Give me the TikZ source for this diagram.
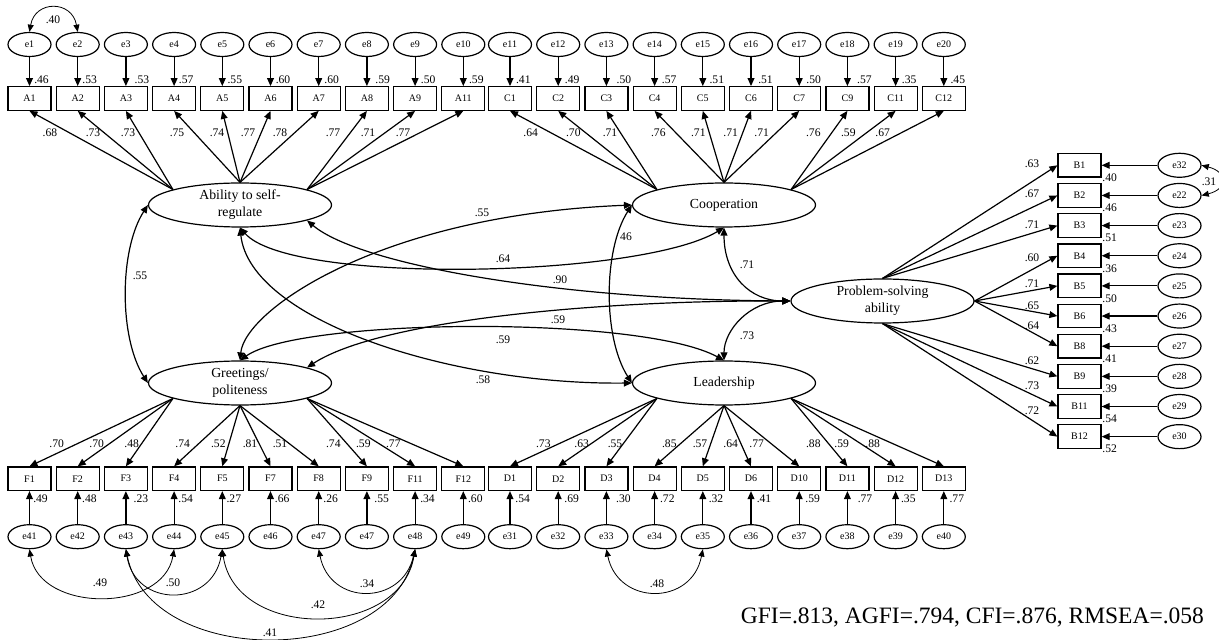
\documentclass[tikz,border=0pt]{standalone}
\usepackage{fontspec}
\setmainfont{Liberation Serif}
\usepackage{tikz}
\usetikzlibrary{shapes.geometric,arrows.meta}

\begin{document}
\begin{tikzpicture}[
  x=0.5pt, y=-0.5pt,
  font=\fontsize{5}{6}\selectfont,
  item/.style={draw, line width=0.6pt, minimum width=21.5pt, minimum height=11.8pt, inner sep=0pt},
  err/.style={draw, ellipse, line width=0.6pt, minimum width=21.5pt, minimum height=12pt, inner sep=0pt},
  latent/.style={draw, ellipse, line width=0.6pt, minimum width=91.5pt, minimum height=22pt, inner sep=0pt, align=center, font=\fontsize{6.9}{8.5}\selectfont},
  coef/.style={inner sep=0.5pt, font=\fontsize{5.8}{7}\selectfont},
  arr/.style={-{Triangle[length=4pt,width=3.4pt]}, line width=0.6pt},
  cov/.style={{Triangle[length=4pt,width=3.4pt]}-{Triangle[length=4pt,width=3.4pt]}, line width=0.6pt},
  ecov/.style={{Triangle[length=3.6pt,width=3pt]}-{Triangle[length=3.6pt,width=3pt]}, line width=0.4pt}
]
\useasboundingbox (0,0) rectangle (1219,640);
% ---------- latent factors ----------
\node[latent] (sr) at (240,205) {Ability to self-\\regulate};
\node[latent] (co) at (724,205) {Cooperation};
\node[latent] (ps) at (882.5,301) {Problem-solving\\ability};
\node[latent] (gp) at (240,383) {Greetings/\\politeness};
\node[latent] (le) at (724,383) {Leadership};

% ---------- self-regulation items (top left) ----------
\foreach \nm/\er/\rs/\rx/\ld/\lx/\an [count=\i from 0] in {
  A1/e1/.46/12/.68/50/167, A2/e2/.53/12/.73/93/167, A3/e3/.53/16/.73/128/167,
  A4/e4/.57/12/.75/177/90, A5/e5/.55/12.5/.74/217/90, A6/e6/.60/12.5/.77/248/90,
  A7/e7/.60/13/.78/280/90, A8/e8/.59/15.7/.77/333/13, A9/e9/.50/13/.71/368/13,
  A11/e10/.59/13/.77/403/13}{
  \node[item] (\nm) at (29.5+48.2*\i,98.5) {\nm};
  \node[err] (e\nm) at (29.5+48.2*\i,44.5) {\er};
  \node[coef] (r\nm) at (29.5+48.2*\i+\rx,80) {\rs};
  \node[coef] (l\nm) at (\lx,133) {\ld};
  \draw[arr] (e\nm) -- (\nm);
  \draw[arr] (sr.\an) -- (\nm.south);
}
% ---------- cooperation items (top right) ----------
\foreach \nm/\er/\rs/\rx/\ld/\lx/\an [count=\i from 0] in {
  C1/e11/.41/13.3/.64/530.7/167, C2/e12/.49/14/.70/573.3/167, C3/e13/.50/17.5/.71/610/167,
  C4/e14/.57/14.6/.76/658.3/90, C5/e15/.51/14/.71/698.3/90, C6/e16/.51/14.5/.71/730.7/90,
  C7/e17/.50/14.5/.71/761.7/90, C9/e18/.57/17/.76/813.3/13, C11/e19/.35/13.5/.59/848.3/13,
  C12/e20/.45/14/.67/882.7/13}{
  \node[item] (\nm) at (510+48.2*\i,98.5) {\nm};
  \node[err] (e\nm) at (510+48.2*\i,44.5) {\er};
  \node[coef] (r\nm) at (510+48.2*\i+\rx,80) {\rs};
  \node[coef] (l\nm) at (\lx,133) {\ld};
  \draw[arr] (e\nm) -- (\nm);
  \draw[arr] (co.\an) -- (\nm.south);
}
% ---------- greetings items (bottom left) ----------
\foreach \nm/\er/\rs/\rx/\ld/\lx/\an [count=\i from 0] in {
  F1/e41/.49/11/.70/56.7/193, F2/e42/.48/11.7/.70/96.7/193, F3/e43/.23/15/.48/131.7/193,
  F4/e44/.54/11.5/.74/182.7/270, F5/e45/.27/11.5/.52/218.3/270, F7/e46/.66/11.7/.81/250/270,
  F8/e47/.26/12/.51/280/270, F9/e47/.55/14.8/.74/333.3/347, F11/e48/.34/12.4/.59/363.3/347,
  F12/e49/.60/12/.77/393.3/347}{
  \node[item] (\nm) at (29.5+48.2*\i,478.7) {\nm};
  \node[err] (e\nm) at (29.5+48.2*\i,536.7) {\er};
  \node[coef] (r\nm) at (29.5+48.2*\i+\rx,498.3) {\rs};
  \node[coef] (l\nm) at (\lx,443.3) {\ld};
  \draw[arr] (e\nm) -- (\nm);
  \draw[arr] (gp.\an) -- (\nm.north);
}
% ---------- leadership items (bottom right) ----------
\foreach \nm/\er/\rs/\rx/\ld/\lx/\an [count=\i from 0] in {
  D1/e31/.54/12.7/.73/543.3/193, D2/e32/.69/13.5/.63/581.7/193, D3/e33/.30/17/.55/615/193,
  D4/e34/.72/12.7/.85/669.3/270, D5/e35/.32/13.2/.57/700/270, D6/e36/.41/13/.64/730.7/270,
  D10/e37/.59/13.5/.77/756.7/270, D11/e38/.77/17.6/.88/813.3/347, D12/e39/.35/12.7/.59/841.7/347,
  D13/e40/.77/13/.88/872.7/347}{
  \node[item] (\nm) at (510+48.2*\i,478.7) {\nm};
  \node[err] (e\nm) at (510+48.2*\i,536.7) {\er};
  \node[coef] (r\nm) at (510+48.2*\i+\rx,498.3) {\rs};
  \node[coef] (l\nm) at (\lx,443.3) {\ld};
  \draw[arr] (e\nm) -- (\nm);
  \draw[arr] (le.\an) -- (\nm.north);
}
% ---------- problem-solving items (right column) ----------
\foreach \nm/\er/\rs/\ld/\ly/\an [count=\i from 0] in {
  B1/e32/.40/.63/163.3/north, B2/e22/.46/.67/193.3/north, B3/e23/.51/.71/225/north,
  B4/e24/.36/.60/257.7/east, B5/e25/.50/.71/284/east, B6/e26/.43/.65/306/east,
  B8/e27/.41/.64/326/east, B9/e28/.39/.62/360.7/south, B11/e29/.54/.73/386/south,
  B12/e30/.52/.72/411/south}{
  \node[item] (\nm) at (1079.5,165.3+30.15*\i) {\nm};
  \node[err] (e\nm) at (1179.5,165.3+30.15*\i) {\er};
  \node[coef, anchor=west] (r\nm) at (1101,177.8+30.15*\i) {\rs};
  \node[coef] (l\nm) at (1032,\ly) {\ld};
  \draw[arr] (e\nm) -- (\nm);
  \draw[arr] (ps.\an) -- (\nm.west);
}

% ---------- factor covariances ----------
\draw[cov] (sr.west) .. controls (119,250) and (119,338) .. (gp.west);
\node[coef] (k1) at (140,276) {.55};
\draw[cov] (co.west) .. controls (603,250) and (603,338) .. (le.west);
\node[coef] (k2) at (626,237) {46};
\draw[cov] (gp.north) .. controls (245,310) and (380,215) .. (co.west);
\node[coef] (k3) at (482,213) {.55};
\draw[cov] (sr.south) .. controls (290,285) and (640,278) .. (co.south);
\node[coef] (k4) at (503,259) {.64};
\draw[cov] (sr.347) .. controls (360,265) and (560,300) .. (ps.west);
\node[coef] (k5) at (560,280) {.90};
\draw[cov] (gp.north) .. controls (300,318) and (640,315) .. (le.north);
\node[coef] (k6) at (558,320) {.59};
\draw[cov] (gp.13) .. controls (380,320) and (600,300) .. (ps.west);
\node[coef] (k7) at (503,340) {.59};
\draw[cov] (sr.south) .. controls (250,320) and (450,385) .. (le.west);
\node[coef] (k8) at (483,380) {.58};
\draw[cov] (co.south) .. controls (724,275) and (750,301) .. (ps.west);
\node[coef] (k9) at (747,265) {.71};
\draw[cov] (ps.west) .. controls (750,301) and (724,330) .. (le.north);
\node[coef] (k10) at (747,336) {.73};

% ---------- error covariances ----------
\draw[ecov] (eA1.north) .. controls (35,0) and (72,0) .. (eA2.north);
\node[coef] (k11) at (53,20) {.40};
\draw[ecov] (eB1.east) .. controls (1228,172) and (1228,189) .. (eB2.east);
\node[coef] (k12) at (1209,182) {.31};
\draw[ecov] (eF1.south) .. controls (40,613) and (163,613) .. (eF4.south);
\node[coef] (k13) at (100,583) {.49};
\draw[ecov] (eF3.south) .. controls (135,608) and (212,608) .. (eF5.south);
\node[coef] (k14) at (173,583) {.50};
\draw[ecov] (eF5.south) .. controls (235,640) and (400,640) .. (eF11.south);
\node[coef] (k15) at (318,605) {.42};
\draw[ecov] (eF3.south) .. controls (150,668) and (390,668) .. (eF11.south);
\node[coef] (k16) at (270,633) {.41};
\draw[ecov] (eF8.south) .. controls (330,606) and (402,606) .. (eF11.south);
\node[coef] (k17) at (367,584) {.34};
\draw[ecov] (eD3.south) .. controls (618,606) and (692,606) .. (eD5.south);
\node[coef] (k18) at (657,584) {.48};

% ---------- fit indices ----------
\node[anchor=east, font=\fontsize{11.75}{14}\selectfont] (fit) at (1211,617) {GFI=.813, AGFI=.794, CFI=.876, RMSEA=.058};
\end{tikzpicture}
\end{document}
